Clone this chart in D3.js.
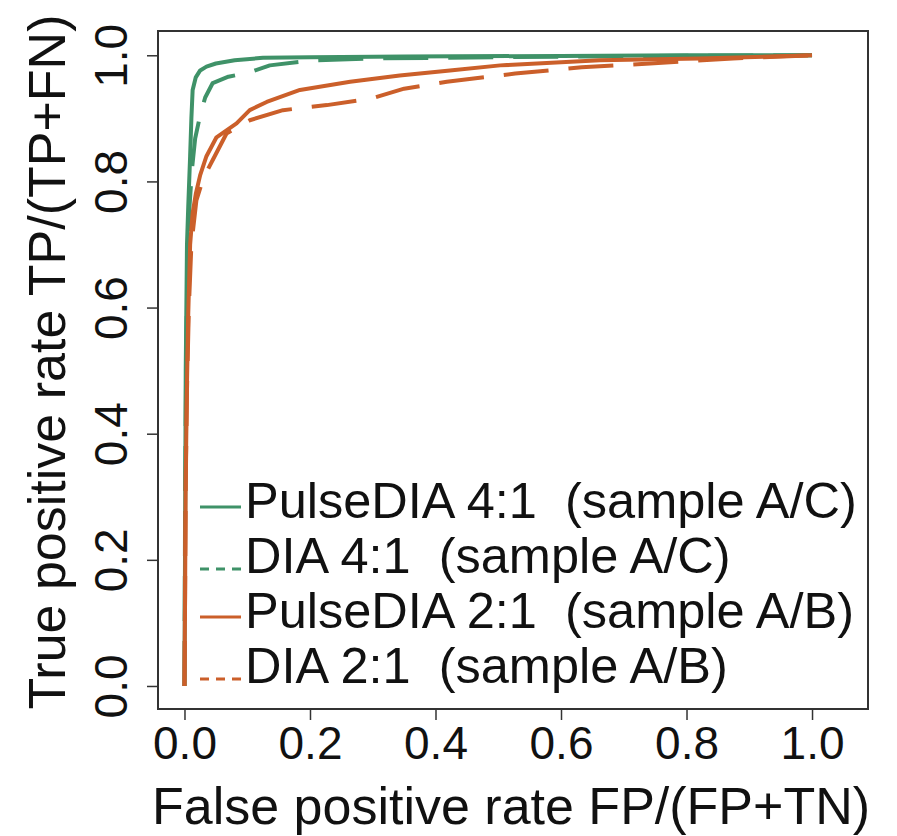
<!DOCTYPE html>
<html>
<head>
<meta charset="utf-8">
<script src="https://cdn.jsdelivr.net/npm/d3@7"></script>
<style>
  body { margin: 0; background: #fff; }
  svg text { font-family: "Liberation Sans", Arial, sans-serif; fill: #111; }
</style>
</head>
<body>
<div id="chart"></div>
<script>
// ROC curves (false positive rate, true positive rate)
const pulse41Fpr = [0, 0.001, 0.002, 0.004, 0.006, 0.009, 0.011, 0.013, 0.018, 0.025, 0.035, 0.05, 0.08, 0.125, 0.2, 0.35, 0.6, 0.8, 1.0]
const pulse41Tpr = [0, 0.25, 0.5, 0.7, 0.76, 0.84, 0.9, 0.945, 0.965, 0.976, 0.982, 0.987, 0.992, 0.996, 0.997, 0.998, 0.999, 1.0, 1.0]

const dia41Fpr = [0, 0.001, 0.003, 0.005, 0.008, 0.012, 0.017, 0.025, 0.033, 0.045, 0.07, 0.104, 0.136, 0.205, 0.3, 0.5, 0.75, 1.0]
const dia41Tpr = [0, 0.3, 0.55, 0.68, 0.76, 0.82, 0.868, 0.905, 0.933, 0.956, 0.966, 0.973, 0.984, 0.992, 0.995, 0.997, 0.999, 1.0]

const pulse21Fpr = [0, 0.001, 0.002, 0.004, 0.006, 0.009, 0.013, 0.018, 0.025, 0.035, 0.051, 0.083, 0.104, 0.131, 0.184, 0.264, 0.343, 0.423, 0.503, 0.662, 0.821, 1.0]
const pulse21Tpr = [0, 0.15, 0.33, 0.48, 0.59, 0.7, 0.75, 0.78, 0.81, 0.84, 0.87, 0.892, 0.913, 0.926, 0.945, 0.958, 0.968, 0.976, 0.984, 0.992, 0.995, 1.0]

const dia21Fpr = [0, 0.001, 0.002, 0.004, 0.007, 0.011, 0.019, 0.03, 0.045, 0.067, 0.104, 0.157, 0.227, 0.3, 0.35, 0.418, 0.527, 0.633, 0.742, 0.874, 1.0]
const dia21Tpr = [0, 0.15, 0.32, 0.47, 0.6, 0.7, 0.77, 0.805, 0.834, 0.876, 0.897, 0.913, 0.921, 0.932, 0.947, 0.958, 0.971, 0.981, 0.987, 0.995, 1.0]

const seriesLabels = [
  'PulseDIA 4:1  (sample A/C)',
  'DIA 4:1  (sample A/C)',
  'PulseDIA 2:1  (sample A/B)',
  'DIA 2:1  (sample A/B)'
]
const xTicks = [0, 0.2, 0.4, 0.6, 0.8, 1.0]
const yTicks = [0, 0.2, 0.4, 0.6, 0.8, 1.0]
const xTitle = 'False positive rate FP/(FP+TN)'
const yTitle = 'True positive rate TP/(TP+FN)'

const green = '#3f9268'
const orange = '#cb5f2a'

const series = [
  { label: seriesLabels[0], fpr: pulse41Fpr, tpr: pulse41Tpr, color: green, dashed: false },
  { label: seriesLabels[1], fpr: dia41Fpr, tpr: dia41Tpr, color: green, dashed: true },
  { label: seriesLabels[2], fpr: pulse21Fpr, tpr: pulse21Tpr, color: orange, dashed: false },
  { label: seriesLabels[3], fpr: dia21Fpr, tpr: dia21Tpr, color: orange, dashed: true }
]

const width = 897
const height = 836
const frame = { left: 158, right: 868, top: 31, bottom: 709 }

const svg = d3.select('#chart')
  .append('svg')
  .attr('width', width)
  .attr('height', height)

// domains padded like base R's plot region
const x = d3.scaleLinear().domain([-0.0422, 1.0892]).range([frame.left, frame.right])
const y = d3.scaleLinear().domain([-0.0365, 1.0385]).range([frame.bottom, frame.top])

const line = d3.line()
  .x(d => x(d[0]))
  .y(d => y(d[1]))

svg.append('g')
  .classed('curves', true)
  .selectAll('path')
  .data(series)
  .join('path')
  .attr('d', s => line(s.fpr.map((f, i) => [f, s.tpr[i]])))
  .attr('fill', 'none')
  .attr('stroke', s => s.color)
  .attr('stroke-width', 4)
  .attr('stroke-linejoin', 'round')
  .attr('stroke-dasharray', s => s.dashed ? '45,20' : null)

// box round the plot
svg.append('rect')
  .attr('x', frame.left)
  .attr('y', frame.top)
  .attr('width', frame.right - frame.left)
  .attr('height', frame.bottom - frame.top)
  .attr('fill', 'none')
  .attr('stroke', '#333')
  .attr('stroke-width', 2)

const xAxis = d3.axisBottom(x).tickValues(xTicks).tickFormat(d3.format('.1f')).tickSize(11).tickSizeOuter(0)
const gx = svg.append('g')
  .classed('x-axis', true)
  .attr('transform', `translate(0, ${frame.bottom})`)
  .call(xAxis)
gx.select('.domain').remove()
gx.selectAll('line').attr('stroke', '#333').attr('stroke-width', 1.5)
gx.selectAll('text')
  .attr('y', 50)
  .attr('dy', null)
  .style('font-size', '46px')

const yAxis = d3.axisLeft(y).tickValues(yTicks).tickFormat(d3.format('.1f')).tickSize(11).tickSizeOuter(0)
const gy = svg.append('g')
  .classed('y-axis', true)
  .attr('transform', `translate(${frame.left}, 0)`)
  .call(yAxis)
gy.select('.domain').remove()
gy.selectAll('line').attr('stroke', '#333').attr('stroke-width', 1.5)
gy.selectAll('text')
  .attr('x', null)
  .attr('dy', null)
  .attr('text-anchor', 'middle')
  .attr('transform', 'translate(-31,0) rotate(-90)')
  .style('font-size', '46px')

svg.append('text')
  .attr('x', (frame.left + frame.right) / 2 - 2)
  .attr('y', 824)
  .attr('text-anchor', 'middle')
  .style('font-size', '52px')
  .text(xTitle)

svg.append('text')
  .attr('transform', `translate(65, ${(frame.top + frame.bottom) / 2 - 8}) rotate(-90)`)
  .attr('text-anchor', 'middle')
  .style('font-size', '52px')
  .text(yTitle)

// legend
const legend = svg.append('g')
  .classed('legend', true)
  .attr('transform', 'translate(200, 500)')

series.forEach((s, idx) => {
  const rowY = idx * 55
  legend.append('line')
    .attr('x1', 0)
    .attr('x2', 41)
    .attr('y1', rowY + (s.dashed ? 14 : 7))
    .attr('y2', rowY + (s.dashed ? 14 : 7))
    .attr('stroke', s.color)
    .attr('stroke-width', 3)
    .attr('stroke-dasharray', s.dashed ? '9,7' : null)
  legend.append('text')
    .attr('x', 45)
    .attr('y', rowY + 18)
    .attr('xml:space', 'preserve')
    .style('white-space', 'pre')
    .style('font-size', '50.5px')
    .text(s.label)
})
</script>
</body>
</html>
